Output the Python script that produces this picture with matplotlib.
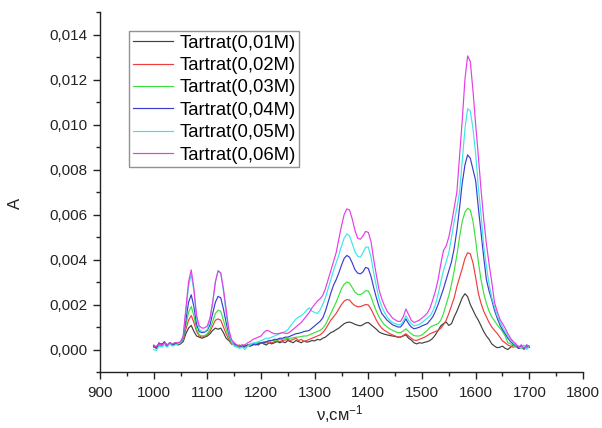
import numpy as np
import matplotlib
matplotlib.use("Agg")
import matplotlib.pyplot as plt
from matplotlib.ticker import MultipleLocator, FuncFormatter

plt.rcParams['font.family'] = ['Liberation Sans', 'DejaVu Sans']
plt.rcParams['mathtext.fontset'] = 'custom'
plt.rcParams['mathtext.rm'] = 'Liberation Sans'
plt.rcParams['mathtext.it'] = 'Liberation Sans'

# wavenumber, cm^-1
wavenumber = [
    1000, 1005, 1010, 1015, 1020, 1025, 1030, 1035, 1040, 1045,
    1050, 1055, 1060, 1065, 1070, 1075, 1080, 1085, 1090, 1095,
    1100, 1105, 1110, 1115, 1120, 1125, 1130, 1135, 1140, 1145,
    1150, 1155, 1160, 1165, 1170, 1175, 1180, 1185, 1190, 1195,
    1200, 1205, 1210, 1215, 1220, 1225, 1230, 1235, 1240, 1245,
    1250, 1255, 1260, 1265, 1270, 1275, 1280, 1285, 1290, 1295,
    1300, 1305, 1310, 1315, 1320, 1325, 1330, 1335, 1340, 1345,
    1350, 1355, 1360, 1365, 1370, 1375, 1380, 1385, 1390, 1395,
    1400, 1405, 1410, 1415, 1420, 1425, 1430, 1435, 1440, 1445,
    1450, 1455, 1460, 1465, 1470, 1475, 1480, 1485, 1490, 1495,
    1500, 1505, 1510, 1515, 1520, 1525, 1530, 1535, 1540, 1545,
    1550, 1555, 1560, 1565, 1570, 1575, 1580, 1585, 1590, 1595,
    1600, 1605, 1610, 1615, 1620, 1625, 1630, 1635, 1640, 1645,
    1650, 1655, 1660, 1665, 1670, 1675, 1680, 1685, 1690, 1695,
    1700,
]

# absorbance, units of 1e-3
a_001 = [
    0.15, 0.10, 0.20, 0.25, 0.30, 0.15, 0.25, 0.20, 0.30, 0.20,
    0.25, 0.35, 0.70, 0.95, 1.07, 0.80, 0.60, 0.55, 0.50, 0.55,
    0.60, 0.70, 0.85, 0.95, 0.90, 0.95, 0.75, 0.50, 0.40, 0.25,
    0.20, 0.15, 0.10, 0.20, 0.10, 0.20, 0.15, 0.20, 0.25, 0.20,
    0.30, 0.25, 0.20, 0.30, 0.25, 0.30, 0.35, 0.30, 0.35, 0.30,
    0.40, 0.35, 0.30, 0.40, 0.35, 0.30, 0.38, 0.33, 0.35, 0.40,
    0.38, 0.45, 0.42, 0.50, 0.55, 0.65, 0.75, 0.80, 0.88, 0.95,
    1.05, 1.15, 1.20, 1.22, 1.18, 1.12, 1.08, 1.05, 1.10, 1.18,
    1.20, 1.10, 1.00, 0.90, 0.78, 0.72, 0.68, 0.65, 0.62, 0.60,
    0.58, 0.55, 0.55, 0.60, 0.65, 0.50, 0.42, 0.30, 0.25, 0.30,
    0.28, 0.32, 0.35, 0.40, 0.50, 0.65, 0.85, 1.05, 1.15, 1.22,
    1.07, 1.15, 1.45, 1.70, 2.00, 2.30, 2.48, 2.35, 2.00, 1.75,
    1.50, 1.30, 1.05, 0.80, 0.60, 0.45, 0.25, 0.15, 0.08, 0.10,
    0.15, 0.05, 0.00, 0.10, 0.20, 0.15, 0.05, 0.10, 0.05, 0.10,
    0.10,
]
a_002 = [
    0.20, 0.10, 0.25, 0.15, 0.30, 0.20, 0.30, 0.20, 0.25, 0.25,
    0.30, 0.40, 0.90, 1.30, 1.51, 1.20, 0.80, 0.60, 0.55, 0.60,
    0.65, 0.80, 1.05, 1.30, 1.36, 1.30, 1.00, 0.70, 0.45, 0.25,
    0.20, 0.15, 0.20, 0.15, 0.20, 0.15, 0.25, 0.20, 0.25, 0.30,
    0.30, 0.28, 0.30, 0.35, 0.30, 0.35, 0.40, 0.35, 0.40, 0.42,
    0.45, 0.40, 0.45, 0.50, 0.40, 0.45, 0.35, 0.40, 0.45, 0.50,
    0.55, 0.60, 0.65, 0.75, 0.90, 1.10, 1.30, 1.45, 1.60, 1.80,
    2.00, 2.15, 2.22, 2.20, 2.05, 1.95, 1.90, 1.91, 1.95, 2.00,
    1.98, 1.80, 1.55, 1.30, 1.10, 0.95, 0.85, 0.78, 0.70, 0.65,
    0.60, 0.55, 0.55, 0.62, 0.70, 0.60, 0.50, 0.42, 0.40, 0.45,
    0.50, 0.55, 0.62, 0.70, 0.75, 0.80, 0.85, 0.95, 1.10, 1.30,
    1.60, 1.95, 2.30, 2.80, 3.20, 3.60, 4.05, 4.30, 4.25, 3.85,
    3.20, 2.50, 2.05, 1.70, 1.45, 1.20, 1.00, 0.85, 0.72, 0.55,
    0.38, 0.30, 0.20, 0.15, 0.10, 0.15, 0.05, 0.10, 0.05, 0.10,
    0.10,
]
a_003 = [
    0.10, 0.05, 0.20, 0.15, 0.30, 0.20, 0.25, 0.20, 0.25, 0.25,
    0.30, 0.45, 1.10, 1.65, 1.91, 1.50, 0.90, 0.65, 0.60, 0.62,
    0.70, 0.90, 1.25, 1.60, 1.75, 1.70, 1.30, 0.90, 0.55, 0.30,
    0.20, 0.15, 0.10, 0.15, 0.10, 0.20, 0.20, 0.25, 0.25, 0.30,
    0.30, 0.35, 0.35, 0.35, 0.40, 0.40, 0.42, 0.45, 0.45, 0.48,
    0.50, 0.50, 0.52, 0.55, 0.55, 0.58, 0.60, 0.60, 0.65, 0.70,
    0.75, 0.80, 0.85, 0.95, 1.10, 1.35, 1.60, 1.85, 2.10, 2.40,
    2.70, 2.90, 3.00, 2.95, 2.75, 2.55, 2.45, 2.44, 2.50, 2.62,
    2.60, 2.35, 2.00, 1.70, 1.45, 1.25, 1.10, 1.00, 0.92, 0.85,
    0.80, 0.75, 0.75, 0.82, 0.92, 0.80, 0.70, 0.62, 0.60, 0.60,
    0.65, 0.75, 0.85, 0.99, 1.05, 1.10, 1.15, 1.30, 1.60, 2.00,
    2.40, 2.90, 3.50, 4.20, 5.00, 5.70, 6.10, 6.28, 6.20, 5.70,
    4.85, 3.90, 3.10, 2.50, 2.05, 1.70, 1.45, 1.28, 1.10, 0.95,
    0.80, 0.60, 0.30, 0.25, 0.20, 0.10, 0.15, 0.05, 0.10, 0.05,
    0.10,
]
a_004 = [
    0.15, 0.05, 0.30, 0.20, 0.35, 0.15, 0.30, 0.20, 0.25, 0.30,
    0.30, 0.50, 1.30, 2.10, 2.43, 1.90, 1.10, 0.80, 0.75, 0.77,
    0.85, 1.10, 1.60, 2.10, 2.36, 2.30, 1.80, 1.20, 0.70, 0.35,
    0.25, 0.20, 0.15, 0.10, 0.15, 0.20, 0.15, 0.25, 0.20, 0.25,
    0.30, 0.30, 0.35, 0.40, 0.40, 0.45, 0.45, 0.50, 0.50, 0.55,
    0.55, 0.60, 0.65, 0.70, 0.72, 0.75, 0.80, 0.82, 0.85, 0.95,
    1.05, 1.15, 1.25, 1.40, 1.70, 2.10, 2.50, 2.85, 3.10, 3.40,
    3.75, 4.05, 4.18, 4.10, 3.85, 3.55, 3.40, 3.36, 3.45, 3.65,
    3.60, 3.25, 2.75, 2.30, 1.90, 1.60, 1.45, 1.30, 1.20, 1.10,
    1.05, 1.00, 1.00, 1.15, 1.36, 1.15, 1.00, 0.92, 0.95, 0.99,
    1.05, 1.10, 1.15, 1.30, 1.45, 1.70, 2.00, 2.35, 2.70, 3.10,
    3.50, 3.90, 4.50, 5.30, 6.30, 7.40, 8.20, 8.65, 8.50, 8.00,
    7.50, 6.30, 5.20, 4.10, 3.10, 2.60, 2.20, 1.75, 1.40, 1.10,
    0.88, 0.70, 0.50, 0.35, 0.25, 0.20, 0.05, 0.20, 0.00, 0.20,
    0.10,
]
a_005 = [
    0.00, -0.05, 0.15, 0.10, 0.20, 0.10, 0.25, 0.15, 0.20, 0.25,
    0.30, 0.55, 1.70, 2.80, 3.35, 2.60, 1.40, 0.90, 0.80, 0.80,
    0.90, 1.35, 2.10, 3.00, 3.50, 3.40, 2.60, 1.60, 0.80, 0.35,
    0.15, 0.10, 0.05, 0.10, 0.00, 0.15, 0.20, 0.30, 0.30, 0.35,
    0.40, 0.45, 0.50, 0.50, 0.55, 0.60, 0.65, 0.70, 0.75, 0.80,
    0.88, 1.05, 1.20, 1.35, 1.45, 1.50, 1.60, 1.75, 1.85, 1.70,
    1.65, 1.60, 1.75, 2.00, 2.30, 2.70, 3.10, 3.50, 3.85, 4.20,
    4.60, 4.95, 5.14, 5.05, 4.70, 4.35, 4.15, 4.10, 4.30, 4.55,
    4.55, 4.10, 3.40, 2.80, 2.25, 1.90, 1.65, 1.45, 1.30, 1.20,
    1.15, 1.10, 1.10, 1.25, 1.50, 1.30, 1.15, 1.05, 1.08, 1.12,
    1.20, 1.30, 1.40, 1.50, 1.70, 2.00, 2.45, 3.00, 3.50, 3.90,
    4.30, 5.00, 5.70, 6.30, 7.00, 8.40, 9.80, 10.70, 10.60, 9.80,
    8.70, 7.20, 6.00, 4.60, 3.70, 2.90, 2.30, 1.90, 1.50, 1.25,
    1.00, 0.80, 0.60, 0.45, 0.30, 0.20, 0.15, 0.05, 0.20, 0.00,
    0.15,
]
a_006 = [
    0.10, 0.15, 0.25, 0.20, 0.30, 0.20, 0.30, 0.25, 0.30, 0.30,
    0.35, 0.60, 1.80, 3.00, 3.54, 2.70, 1.50, 1.05, 0.95, 0.96,
    1.05, 1.40, 2.10, 3.00, 3.50, 3.40, 2.70, 1.80, 0.90, 0.45,
    0.30, 0.20, 0.15, 0.20, 0.20, 0.30, 0.35, 0.45, 0.50, 0.55,
    0.60, 0.75, 0.85, 0.82, 0.75, 0.70, 0.70, 0.72, 0.75, 0.72,
    0.72, 0.80, 0.90, 1.00, 1.10, 1.20, 1.35, 1.50, 1.65, 1.85,
    2.00, 2.15, 2.25, 2.40, 2.70, 3.10, 3.50, 3.90, 4.30, 4.90,
    5.50, 6.00, 6.25, 6.20, 5.80, 5.30, 4.95, 4.90, 5.05, 5.25,
    5.20, 4.80, 4.00, 3.30, 2.65, 2.25, 1.95, 1.70, 1.55, 1.40,
    1.32, 1.25, 1.25, 1.45, 1.80, 1.55, 1.30, 1.20, 1.25, 1.30,
    1.40, 1.50, 1.62, 1.85, 2.20, 2.60, 3.10, 3.80, 4.40, 4.60,
    5.00, 5.60, 6.30, 7.00, 8.60, 10.20, 12.00, 13.05, 12.80, 11.50,
    10.00, 8.60, 7.10, 5.80, 4.70, 3.80, 3.00, 2.10, 1.70, 1.35,
    1.15, 0.95, 0.70, 0.50, 0.35, 0.25, 0.10, 0.20, 0.05, 0.20,
    0.15,
]

labels = ["Tartrat(0,01M)", "Tartrat(0,02M)", "Tartrat(0,03M)",
          "Tartrat(0,04M)", "Tartrat(0,05M)", "Tartrat(0,06M)"]
colors = ["#404040", "#f03c3c", "#3ce03c", "#3c3cd0", "#3ce6e6", "#e63ce6"]
series = [a_001, a_002, a_003, a_004, a_005, a_006]

fig = plt.figure(figsize=(6.02, 4.28), dpi=100)
ax = fig.add_axes([100 / 602, (428 - 372) / 428, 483 / 602, 360 / 428])

x = np.array(wavenumber)
for vals, lab, col in zip(series, labels, colors):
    ax.plot(x, np.array(vals) * 1e-3, color=col, lw=0.85, label=lab)

ax.set_xlim(900, 1800)
ax.set_ylim(-0.001, 0.015)
ax.xaxis.set_major_locator(MultipleLocator(100))
ax.xaxis.set_minor_locator(MultipleLocator(50))
ax.yaxis.set_major_locator(MultipleLocator(0.002))
ax.yaxis.set_minor_locator(MultipleLocator(0.001))
ax.yaxis.set_major_formatter(FuncFormatter(lambda v, p: f"{v:.3f}".replace(".", ",").replace("-0,000", "0,000")))

for side in ("top", "right"):
    ax.spines[side].set_visible(False)
for side in ("left", "bottom"):
    ax.spines[side].set_linewidth(1.0)
    ax.spines[side].set_color("#222222")

ax.tick_params(which="major", direction="out", length=5, width=1.0, labelsize=11,
               color="#222222", labelcolor="#222222")
ax.tick_params(which="minor", direction="out", length=3, width=1.0, color="#222222")
ax.tick_params(axis="x", pad=5)
ax.tick_params(axis="y", pad=4)

ax.set_ylabel("A", fontsize=12, color="#222222")
ax.yaxis.set_label_coords(-0.159, 0.468)
ax.set_xlabel("ν,см$^{-1}$", fontsize=12, color="#222222")
ax.xaxis.set_label_coords(0.497, -0.085)

leg = ax.legend(loc="upper left", bbox_to_anchor=(0.060, 0.947), borderaxespad=0,
                fontsize=13.3, frameon=True, fancybox=False, shadow=False,
                handlelength=2.2, handletextpad=0.33, labelspacing=0.29,
                borderpad=0.2)
leg.get_frame().set_edgecolor("#777777")
leg.get_frame().set_linewidth(1.0)

fig.savefig("out.png", dpi=100)
